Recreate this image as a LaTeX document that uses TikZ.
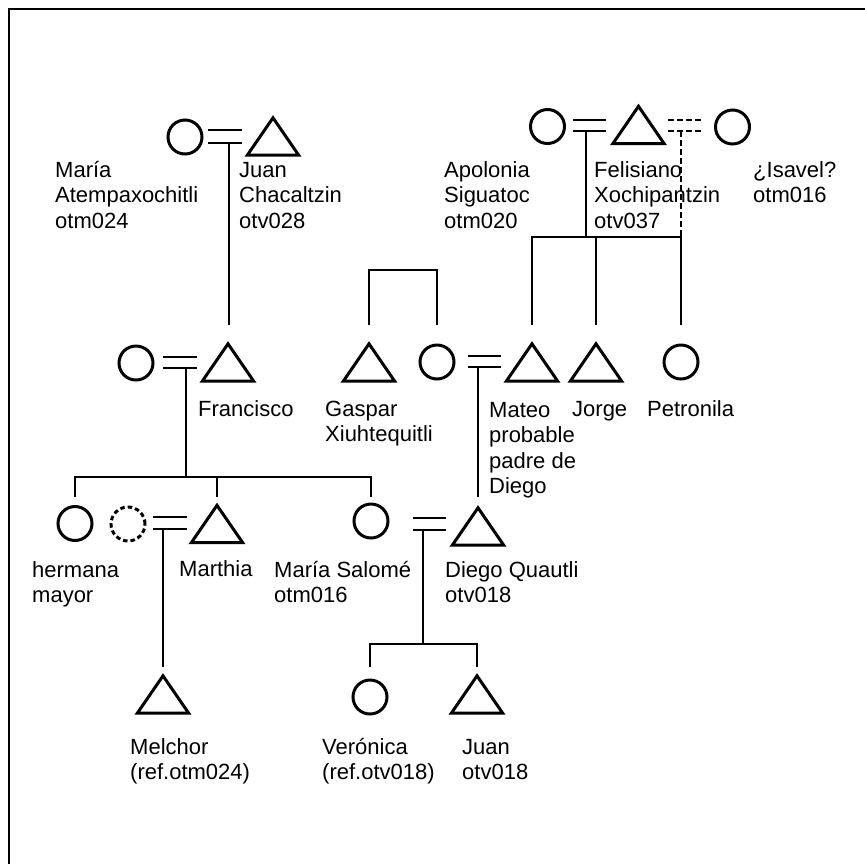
\documentclass[tikz,border=0pt]{standalone}
\usepackage{fontspec}
\setmainfont{Liberation Sans}
\begin{document}
\begin{tikzpicture}[x=1pt,y=-1pt,
  kin/.style={line width=2.8pt},
  dashkin/.style={line width=2.8pt, dash pattern=on 6pt off 3pt},
  female/.style={circle, draw, line width=3pt, minimum size=34pt, inner sep=0pt},
  unknown/.style={female, dash pattern=on 4.5pt off 3pt},
  male/.style={inner sep=0pt, minimum width=51pt, minimum height=37pt},
  % a caption is placed by the baseline of its last line
  caption/.style={anchor=base west, align=left, inner sep=0pt,
                  font=\fontsize{22}{25.5}\selectfont}]

\useasboundingbox (0,0) rectangle (865,863);
% page frame
\draw[line width=2.5pt] (9,866) -- (9,9) -- (868,9);

% horizontal levels for bars and drop ends
\coordinate (r2) at (0,325);
\coordinate (r3) at (0,497);
\coordinate (r4) at (0,667);
\coordinate (topbar) at (0,237);
\coordinate (gbar) at (0,270);
\coordinate (kbar) at (0,477);
\coordinate (vbar) at (0,644);

% ---- people ----
\node[female] (maria)     at (185,137) {};
\node[male]   (juan1)     at (273,136.5) {};
\node[female] (apolonia)  at (547.5,126.5) {};
\node[male]   (felisiano) at (638.5,125) {};
\node[female] (isavel)    at (732.5,127) {};

\node[female] (wfrancisco) at (136,363) {};
\node[male]   (francisco)  at (228,362.5) {};
\node[male]   (gaspar)     at (369,362.5) {};
\node[female] (wmateo)     at (437,362) {};
\node[male]   (mateo)      at (532,362.5) {};
\node[male]   (jorge)      at (596,362.5) {};
\node[female] (petronila)  at (681,362) {};

\node[female]  (hermana) at (75,523.5) {};
\node[unknown] (wmarthia) at (128,524) {};
\node[male]    (marthia) at (217,524) {};
\node[female]  (salome)  at (371,521) {};
\node[male]    (diego)   at (478,526.5) {};

\node[male]   (melchor)  at (163,694.5) {};
\node[female] (veronica) at (370,697) {};
\node[male]   (juan2)    at (477,694.5) {};

\foreach \p in {juan1,felisiano,francisco,gaspar,mateo,jorge,marthia,diego,melchor,juan2}
  \draw[line width=3pt] (\p.south west) -- (\p.north) -- (\p.south east) -- cycle;

% ---- names ----
\node[caption] (tmaria) at (55,228) {María\\Atempaxochitli\\otm024};
\node[caption] (tjuan1) at (239,228) {Juan\\Chacaltzin\\otv028};
\node[caption] (tapolonia) at (444,228) {Apolonia\\Siguatoc\\otm020};
\node[caption] (tfelisiano) at (594,228) {Felisiano\\Xochipantzin\\otv037};
\node[caption] (tisavel) at (753,202.5) {¿Isavel?\\otm016};

\node[caption] (tfrancisco) at (198,416) {Francisco};
\node[caption] (tgaspar) at (325,441.5) {Gaspar\\Xiuhtequitli};
\node[caption] (tmateo) at (489,493.5) {Mateo\\probable\\padre de\\Diego};
\node[caption] (tjorge) at (572,416) {Jorge};
\node[caption] (tpetronila) at (647,416) {Petronila};

\node[caption] (thermana) at (32,602.5) {hermana\\mayor};
\node[caption] (tmarthia) at (179,576) {Marthia};
\node[caption] (tsalome) at (274,602.5) {María Salomé\\otm016};
\node[caption] (tdiego) at (445,602.5) {Diego Quautli\\otv018};

\node[caption] (tmelchor) at (130,779.5) {Melchor\\(ref.otm024)};
\node[caption] (tveronica) at (322,779.5) {Verónica\\(ref.otv018)};
\node[caption] (tjuan2) at (462,779.5) {Juan\\otv018};

% ---- marriages: two parallel strokes, descent from the lower one ----
% María -- Juan
\coordinate (ua1) at (208,130); \coordinate (ua2) at (242,130);
\coordinate (la1) at (208,143); \coordinate (la2) at (242,143);
\coordinate (da) at (229,143);
% Apolonia -- Felisiano
\coordinate (ub1) at (573,120); \coordinate (ub2) at (606,120);
\coordinate (lb1) at (573,131); \coordinate (lb2) at (606,131);
\coordinate (db) at (586,131);
% Felisiano -- Isavel (uncertain)
\coordinate (uc1) at (668,120); \coordinate (uc2) at (702,120);
\coordinate (lc1) at (668,131); \coordinate (lc2) at (702,131);
\coordinate (dc) at (681,131);
% Francisco and wife
\coordinate (ud1) at (163,357); \coordinate (ud2) at (197,357);
\coordinate (ld1) at (163,368); \coordinate (ld2) at (197,368);
\coordinate (dd) at (186,368);
% Mateo and wife
\coordinate (ue1) at (468,356); \coordinate (ue2) at (501,356);
\coordinate (le1) at (468,367); \coordinate (le2) at (501,367);
\coordinate (de) at (478,367);
% Marthia and unknown wife
\coordinate (uf1) at (153,517); \coordinate (uf2) at (187,517);
\coordinate (lf1) at (153,529); \coordinate (lf2) at (187,529);
\coordinate (df) at (163,529);
% María Salomé -- Diego
\coordinate (ug1) at (413,518); \coordinate (ug2) at (446,518);
\coordinate (lg1) at (413,530); \coordinate (lg2) at (446,530);
\coordinate (dg) at (423,530);

\foreach \a/\b in {ua1/ua2,la1/la2,ub1/ub2,lb1/lb2,ud1/ud2,ld1/ld2,
                   ue1/ue2,le1/le2,uf1/uf2,lf1/lf2,ug1/ug2,lg1/lg2}
  \draw[kin] (\a) -- (\b);
\draw[dashkin] (uc1) -- (uc2);
\draw[dashkin] (lc1) -- (lc2);

% ---- descent ----
% Francisco, son of María and Juan
\draw[kin] (da) -- (da |- r2);
% children of Apolonia and Felisiano
\draw[kin] (db) -- (db |- topbar);
\draw[dashkin] (dc) -- (dc |- topbar);
\draw[kin] (mateo.north |- r2) |- (petronila.north |- topbar) -- (petronila.north |- r2);
\draw[kin] (jorge.north |- topbar) -- (jorge.north |- r2);
% Gaspar and his sister
\draw[kin] (gaspar.north |- r2) |- (wmateo.north |- gbar) -- (wmateo.north |- r2);
% children of Francisco
\draw[kin] (dd) -- (dd |- kbar);
\draw[kin] (hermana.north |- r3) |- (salome.north |- kbar) -- (salome.north |- r3);
\draw[kin] (marthia.north |- kbar) -- (marthia.north |- r3);
% Diego, son of Mateo
\draw[kin] (de) -- (diego.north |- r3);
% Melchor, son of Marthia
\draw[kin] (df) -- (melchor.north |- r4);
% children of María Salomé and Diego
\draw[kin] (dg) -- (dg |- vbar);
\draw[kin] (veronica.north |- r4) |- (juan2.north |- vbar) -- (juan2.north |- r4);

\end{tikzpicture}
\end{document}
